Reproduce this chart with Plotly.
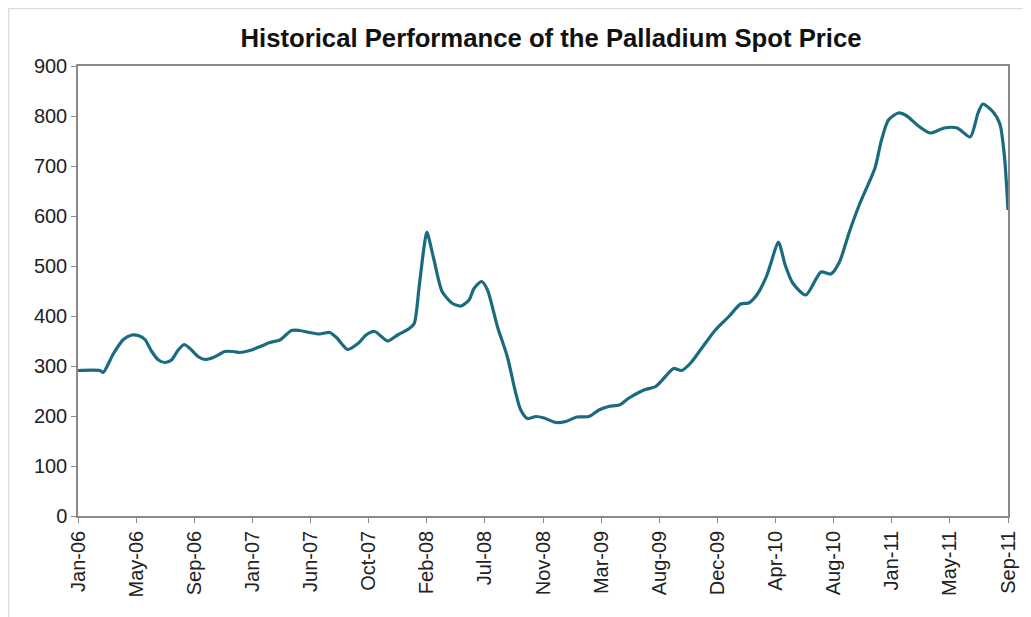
import plotly.graph_objects as go
import pandas as pd

dates = [
    "2006-01-01", "2006-02-19", "2006-02-26", "2006-03-21", "2006-04-12", "2006-05-01",
    "2006-05-15", "2006-05-30", "2006-06-14", "2006-06-29", "2006-07-14", "2006-07-28",
    "2006-08-12", "2006-08-25", "2006-09-07", "2006-09-25", "2006-10-10", "2006-10-29",
    "2006-11-24", "2006-12-12", "2006-12-27", "2007-01-22", "2007-02-13", "2007-03-04",
    "2007-03-26", "2007-04-21", "2007-05-09", "2007-05-31", "2007-06-22", "2007-07-15",
    "2007-07-30", "2007-08-24", "2007-09-16", "2007-10-04", "2007-10-23", "2007-11-21",
    "2007-12-13", "2008-01-08", "2008-01-19", "2008-01-30", "2008-02-10", "2008-02-16",
    "2008-03-03", "2008-03-21", "2008-04-13", "2008-05-02", "2008-05-20", "2008-05-31",
    "2008-06-17", "2008-06-30", "2008-07-22", "2008-08-13", "2008-09-01", "2008-09-12",
    "2008-09-27", "2008-10-16", "2008-11-03", "2008-11-29", "2008-12-21", "2009-01-15",
    "2009-02-11", "2009-03-05", "2009-03-27", "2009-04-19", "2009-05-11", "2009-06-13",
    "2009-07-09", "2009-07-31", "2009-08-18", "2009-09-05", "2009-09-25", "2009-10-20",
    "2009-11-19", "2009-12-19", "2010-01-14", "2010-02-01", "2010-02-19", "2010-03-13",
    "2010-03-24", "2010-04-08", "2010-04-24", "2010-05-10", "2010-06-08", "2010-07-12",
    "2010-08-03", "2010-08-22", "2010-09-13", "2010-10-05", "2010-11-09", "2010-11-23",
    "2010-12-09", "2010-12-31", "2011-01-19", "2011-02-11", "2011-03-12", "2011-04-12",
    "2011-05-11", "2011-06-09", "2011-06-26", "2011-07-07", "2011-07-30", "2011-08-14",
    "2011-08-24", "2011-09-01",
]
prices = [
    291, 291, 287, 325, 353, 362,
    361, 353, 329, 312, 307, 312,
    332, 343, 335, 319, 313, 317,
    329, 329, 327, 332, 340, 347,
    352, 371, 371, 367, 364, 367,
    357, 333, 345, 362, 369, 350,
    362, 375, 385, 459, 539, 568,
    512, 449, 425, 420, 432, 455,
    469, 452, 379, 319, 245, 212,
    195, 199, 196, 187, 189, 198,
    199, 212, 219, 222, 236, 252,
    259, 279, 295, 291, 306, 336,
    372, 399, 424, 426, 442, 480,
    510, 548, 500, 466, 442, 488,
    484, 508, 568, 622, 696, 750,
    792, 806, 800, 782, 766, 776,
    776, 758, 805, 824, 808, 784,
    720, 612,
]

tick_labels = ["Jan-06", "May-06", "Sep-06", "Jan-07", "Jun-07", "Oct-07", "Feb-08",
               "Jul-08", "Nov-08", "Mar-09", "Aug-09", "Dec-09", "Apr-10", "Aug-10",
               "Jan-11", "May-11", "Sep-11"]

x_start = pd.Timestamp("2006-01-01")
x_end = pd.Timestamp("2011-09-01")
n = len(tick_labels) - 1
tick_vals = [x_start + (x_end - x_start) * k / n for k in range(n + 1)]

fig = go.Figure()
fig.add_trace(go.Scatter(
    x=pd.to_datetime(dates), y=prices, mode="lines",
    line=dict(color="#1b6b80", width=3.2, shape="spline", smoothing=0.7),
    showlegend=False, hoverinfo="x+y",
))

axis_font = dict(family="Liberation Sans, Arial, sans-serif", size=20, color="#222222")

W, H = 1023, 609
L, R, T, B = 70, 21, 58, 101
pw, ph = W - L - R, H - T - B

fig.update_layout(
    width=W, height=H,
    margin=dict(l=L, r=R, t=T, b=B),
    paper_bgcolor="white", plot_bgcolor="white",
    title=dict(text="<b>Historical Performance of the Palladium Spot Price</b>",
               x=543 / W, xanchor="center", y=1 - 30 / H, yanchor="middle",
               font=dict(family="Liberation Sans, Arial, sans-serif", size=25.7, color="#111111")),
    xaxis=dict(
        type="date", range=[x_start, x_end],
        tickmode="array", tickvals=tick_vals, ticktext=tick_labels,
        tickangle=-90, tickfont=axis_font,
        showgrid=False, zeroline=False,
        showline=True, linecolor="#8a8a8a", linewidth=1.5, mirror=True,
        ticks="outside", ticklen=5, tickcolor="#8a8a8a",
    ),
    yaxis=dict(
        range=[0, 900], tickmode="array", tickvals=list(range(0, 901, 100)),
        tickfont=axis_font,
        showgrid=False, zeroline=False,
        showline=True, linecolor="#8a8a8a", linewidth=1.5, mirror=True,
        ticks="outside", ticklen=5, tickcolor="#8a8a8a",
    ),
    shapes=[
        dict(type="line", xref="paper", yref="paper",
             x0=-L / pw + 0.5 / pw, x1=-L / pw + 0.5 / pw, y0=-B / ph, y1=1 + T / ph,
             line=dict(color="#dddddd", width=1.5)),
        dict(type="line", xref="paper", yref="paper",
             x0=-L / pw, x1=1 + R / pw, y0=1 + (T - 0.5) / ph, y1=1 + (T - 0.5) / ph,
             line=dict(color="#dddddd", width=1.5)),
    ],
)

fig.write_html("out.html")
